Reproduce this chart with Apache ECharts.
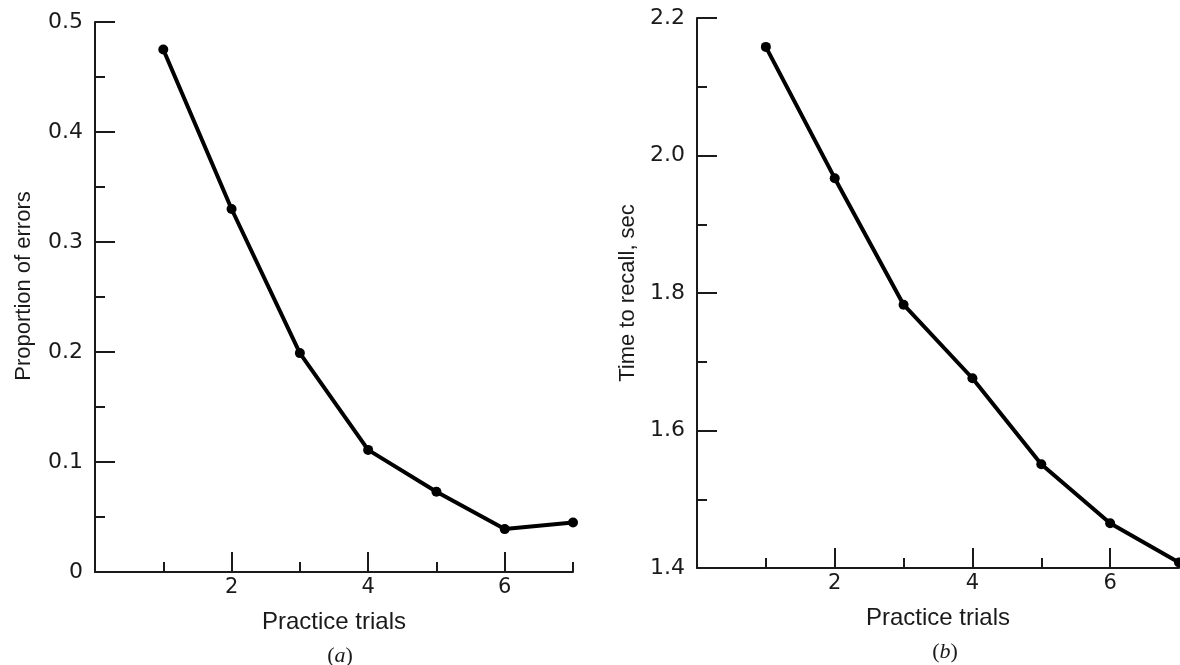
<!DOCTYPE html>
<html>
<head>
<meta charset="utf-8">
<script src="https://cdn.jsdelivr.net/npm/echarts@6/dist/echarts.min.js"></script>
<style>
  html, body { margin: 0; padding: 0; background: #ffffff; }
  #chart { width: 1180px; height: 665px; }
</style>
</head>
<body>
<div id="chart"></div>
<script>
// ---- data ----
const trials = [1, 2, 3, 4, 5, 6, 7];
const proportionErrors = [0.475, 0.33, 0.199, 0.111, 0.073, 0.039, 0.045];
const timeToRecall = [2.158, 1.967, 1.783, 1.676, 1.551, 1.465, 1.408];
const xLabelValues = [2, 4, 6];
const xMajorTicks = [2, 4, 6];
const xAllTicks = [1, 2, 3, 4, 5, 6, 7];
const panelNames = ['a', 'b'];
const yNames = ['Proportion of errors', 'Time to recall, sec'];
const xName = 'Practice trials';

const ink = '#1a1a1a';
const font = '"Liberation Sans", Arial, Helvetica, sans-serif';
const tickFont = '"DejaVu Sans", "Liberation Sans", sans-serif';

function mainX(grid) {
  return {
    type: 'value', gridIndex: grid, position: 'bottom',
    min: 0, max: 7, interval: 1,
    name: xName, nameLocation: 'middle', nameGap: 38,
    nameTextStyle: { fontFamily: font, fontSize: 24, color: ink },
    axisLine: { show: true, onZero: false, lineStyle: { color: ink, width: 2 } },
    axisTick: { show: true, inside: true, length: 10, customValues: xAllTicks, lineStyle: { color: ink, width: 2 } },
    axisLabel: { show: true, customValues: xLabelValues, margin: 5, fontFamily: tickFont, fontSize: 21, color: ink },
    splitLine: { show: false }
  };
}
function majorX(grid) {
  return {
    type: 'value', gridIndex: grid, position: 'bottom',
    min: 0, max: 7, interval: 1,
    axisLine: { show: false, onZero: false },
    axisTick: { show: true, inside: true, length: 20, customValues: xMajorTicks, lineStyle: { color: ink, width: 2 } },
    axisLabel: { show: false },
    splitLine: { show: false }
  };
}
function yAxis(grid, min, max, interval, name, fmt, gap, pad) {
  return {
    type: 'value', gridIndex: grid, position: 'left',
    min: min, max: max, interval: interval,
    name: name, nameLocation: 'middle', nameGap: gap, nameRotate: 90,
    nameTextStyle: { fontFamily: font, fontSize: 22, color: ink, padding: pad },
    axisLine: { show: true, onZero: false, lineStyle: { color: ink, width: 2 } },
    axisTick: { show: true, inside: true, length: 20, lineStyle: { color: ink, width: 2 } },
    minorTick: { show: true, splitNumber: 2, length: 10, lineStyle: { color: ink, width: 2 } },
    axisLabel: { margin: 12, fontFamily: tickFont, fontSize: 22, color: ink, formatter: fmt },
    splitLine: { show: false },
    minorSplitLine: { show: false }
  };
}

function pairs(xs, ys) { return xs.map((x, i) => [x, ys[i]]); }

const lineStyle = { color: '#000', width: 4 };
const itemStyle = { color: '#000' };

function panelTitle(name, left, top) {
  return {
    text: '{p|(}{i|' + name + '}{p|)}',
    left: left, top: top, textAlign: 'center',
    textStyle: { fontWeight: 'normal', rich: {
      p: { fontFamily: '"Liberation Serif", serif', fontWeight: 'normal', fontSize: 22, color: ink },
      i: { fontFamily: '"Liberation Serif", serif', fontWeight: 'normal', fontStyle: 'italic', fontSize: 22, color: ink }
    } }
  };
}

const option = {
  backgroundColor: '#ffffff',
  animation: false,
  title: [
    panelTitle(panelNames[0], 335, 640),
    panelTitle(panelNames[1], 940, 636)
  ],
  grid: [
    { left: 95, top: 22, width: 478, height: 550, containLabel: false },
    { left: 697, top: 18, width: 482, height: 550, containLabel: false }
  ],
  xAxis: [mainX(0), majorX(0), mainX(1), majorX(1)],
  yAxis: [
    yAxis(0, 0, 0.5, 0.1, yNames[0], v => (v === 0 ? '0' : v.toFixed(1)), 60, [0, 0, 0, 22]),
    yAxis(1, 1.4, 2.2, 0.2, yNames[1], v => v.toFixed(1), 58, [0, 0, 0, 0])
  ],
  series: [
    {
      type: 'line', xAxisIndex: 0, yAxisIndex: 0,
      data: pairs(trials, proportionErrors),
      symbol: 'circle', symbolSize: 10,
      lineStyle: lineStyle, itemStyle: itemStyle
    },
    {
      type: 'line', xAxisIndex: 2, yAxisIndex: 1,
      data: pairs(trials, timeToRecall),
      symbol: 'circle', symbolSize: 10, clip: false,
      lineStyle: lineStyle, itemStyle: itemStyle
    }
  ]
};

const chart = echarts.init(document.getElementById('chart'), null, { renderer: 'canvas' });
chart.setOption(option);
</script>
</body>
</html>
